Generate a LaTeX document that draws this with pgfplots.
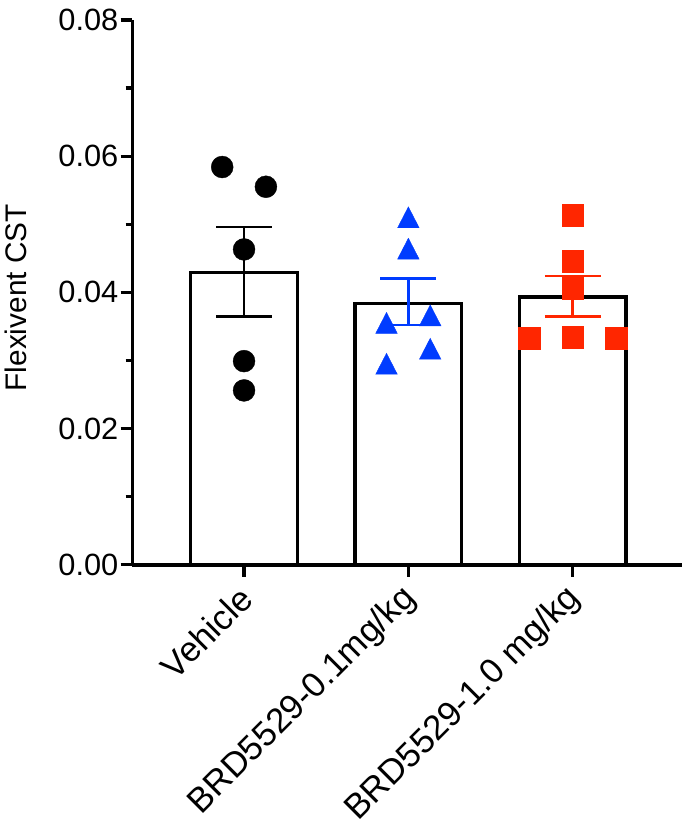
\documentclass[border=0pt]{standalone}
\usepackage{fontspec}
\setmainfont{Liberation Sans}
\usepackage{pgfplots}
\pgfplotsset{compat=1.18}
\definecolor{pblue}{RGB}{0,60,255}
\definecolor{pred}{RGB}{255,38,0}
\begin{document}
\begin{tikzpicture}
\begin{axis}[
  name=ax,
  scale only axis,
  width=552bp, height=547bp,
  xmin=-0.679, xmax=2.667,
  ymin=0, ymax=0.08,
  clip=false,
  axis x line*=bottom, axis y line*=left,
  axis line style={line width=3.8bp},
  ytick={0,0.02,0.04,0.06,0.08},
  minor y tick num=1,
  xtick={0,1,2},
  xticklabels={Vehicle, BRD5529-0.1mg/kg, BRD5529-1.0 mg/kg},
  tick align=outside,
  major tick length=12bp,
  minor tick length=7bp,
  every tick/.style={black, line width=3.2bp},
  scaled y ticks=false,
  /pgf/number format/fixed,
  /pgf/number format/fixed zerofill,
  /pgf/number format/precision=2,
  /pgf/number format/assume math mode=true,
  yticklabel style={font=\fontsize{31}{31}\selectfont, inner sep=0pt, xshift=-2bp},
  xticklabel style={font=\fontsize{35}{35}\selectfont, rotate=45, anchor=east, inner sep=0pt, xshift=-10bp, yshift=-13bp},
  ylabel={Flexivent CST},
  ylabel style={font=\fontsize{30}{30}\selectfont, at={(axis description cs:-0.232,0.49)}, anchor=north, inner sep=0pt},
]
% bars
\addplot[ybar, bar width=107bp, fill=white, draw=black, line width=3.4bp]
  coordinates {(0,0.0429) (1,0.0384) (2,0.0393)};
% error bars (mean +/- SEM)
\addplot[black, line width=2.8bp] coordinates {(0,0.0365) (0,0.0496)};
\addplot[black, line width=2.8bp] coordinates {(-0.17,0.0496) (0.17,0.0496)};
\addplot[black, line width=2.8bp] coordinates {(-0.17,0.0365) (0.17,0.0365)};
\addplot[pblue, line width=2.8bp] coordinates {(1,0.0352) (1,0.0420)};
\addplot[pblue, line width=2.8bp] coordinates {(0.83,0.0420) (1.17,0.0420)};
\addplot[pblue, line width=2.8bp] coordinates {(0.83,0.0352) (1.17,0.0352)};
\addplot[pred, line width=2.8bp] coordinates {(2,0.0364) (2,0.0424)};
\addplot[pred, line width=2.8bp] coordinates {(1.83,0.0424) (2.17,0.0424)};
\addplot[pred, line width=2.8bp] coordinates {(1.83,0.0364) (2.17,0.0364)};
% individual points
\addplot[only marks, mark=*, mark size=11bp, black]
  coordinates {(-0.133,0.0584) (0.133,0.0555) (0,0.0463) (0,0.0299) (0,0.0256)};
\addplot[only marks, mark=triangle*, mark size=12.5bp, pblue, mark options={yscale=1.12}]
  coordinates {(1,0.0505) (1,0.0459) (0.867,0.0350) (1.133,0.0361) (1.133,0.0312) (0.867,0.0290)};
\addplot[only marks, mark=square*, mark size=11bp, pred]
  coordinates {(2,0.0513) (2,0.0446) (2,0.0406) (1.733,0.0332) (2,0.0334) (2.267,0.0332)};
\end{axis}
\useasboundingbox (ax.south west) ++(-133bp,-260bp) rectangle ([shift={(0bp,20bp)}]ax.north east);
\end{tikzpicture}
\end{document}
